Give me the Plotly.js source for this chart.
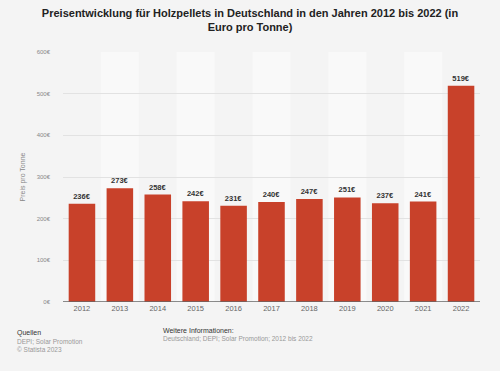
<!DOCTYPE html>
<html><head><meta charset="utf-8">
<script src="https://cdn.plot.ly/plotly-3.0.1.min.js"></script>
<style>html,body{margin:0;padding:0;background:#f4f4f4;}#chart{width:500px;height:371px;}</style>
</head><body><div id="chart"></div>
<script>
const years = ["2012","2013","2014","2015","2016","2017","2018","2019","2020","2021","2022"];
const prices = [236,273,258,242,231,240,247,251,237,241,519];
const yTicks = [0,100,200,300,400,500,600];
const yTickLabels = ["0€","100€","200€","300€","400€","500€","600€"];

const shapes = [];
years.forEach((y,i)=>{ if(i%2===1){ shapes.push({type:'rect',xref:'x',yref:'y',x0:i-0.5,x1:i+0.5,y0:0,y1:600,fillcolor:'#f9f9f9',line:{width:0},layer:'below'}); }});

const data = [{
  type:'bar', x:years, y:prices,
  marker:{color:'#c8412a'},
  text:prices.map(v=>'<b>'+v+'€</b>'), textposition:'outside', cliponaxis:false,
  textfont:{family:'Liberation Sans, Arial, sans-serif',size:7.5,color:'#333'},
  width:0.7, hoverinfo:'none'
}];
const layout = {
  width:500,height:371,
  paper_bgcolor:'#f4f4f4', plot_bgcolor:'#f4f4f4',
  margin:{l:63,r:20,t:52,b:69},
  title:{text:'<b>Preisentwicklung für Holzpellets in Deutschland in den Jahren 2012 bis 2022 (in<br>Euro pro Tonne)</b>',
    font:{family:'Liberation Sans, Arial, sans-serif',size:11,color:'#222'},x:0.5,xanchor:'center',y:0.955,yanchor:'top'},
  xaxis:{type:'category',tickfont:{family:'Liberation Sans, Arial, sans-serif',size:7.5,color:'#666'},showgrid:false,ticks:'',showline:false,zeroline:false},
  yaxis:{range:[0,600],tickvals:yTicks,ticktext:yTickLabels,tickfont:{family:'Liberation Sans, Arial, sans-serif',size:6,color:'#888'},
    gridcolor:'#e2e2e2',gridwidth:1,zeroline:false,showline:false,ticks:'',ticklabelstandoff:12,
    title:{text:'Preis pro Tonne',font:{family:'Liberation Sans, Arial, sans-serif',size:7,color:'#888'},standoff:10}},
  shapes: shapes.concat([{type:'line',xref:'paper',yref:'y',x0:0,x1:1,y0:0,y1:0,line:{color:'#666',width:1.5}}]),
  showlegend:false,
  annotations:[
    {text:'Quellen',xref:'paper',yref:'paper',x:-0.11,y:-0.1,xanchor:'left',yanchor:'top',showarrow:false,font:{family:'Liberation Sans, Arial, sans-serif',size:7,color:'#333'},xshift:-2},
    {text:'DEPI; Solar Promotion<br>© Statista 2023',align:'left',xref:'paper',yref:'paper',x:-0.11,y:-0.135,xanchor:'left',yanchor:'top',showarrow:false,font:{family:'Liberation Sans, Arial, sans-serif',size:6.5,color:'#999'},xshift:-2},
    {text:'Weitere Informationen:',xref:'paper',yref:'paper',x:0.24,y:-0.09,xanchor:'left',yanchor:'top',showarrow:false,font:{family:'Liberation Sans, Arial, sans-serif',size:7,color:'#333'},xshift:-2},
    {text:'Deutschland; DEPI; Solar Promotion; 2012 bis 2022',xref:'paper',yref:'paper',x:0.24,y:-0.125,xanchor:'left',yanchor:'top',showarrow:false,font:{family:'Liberation Sans, Arial, sans-serif',size:6.5,color:'#999'},xshift:-2}
  ]
};
Plotly.newPlot('chart',data,layout,{displayModeBar:false,staticPlot:true});
</script></body></html>
